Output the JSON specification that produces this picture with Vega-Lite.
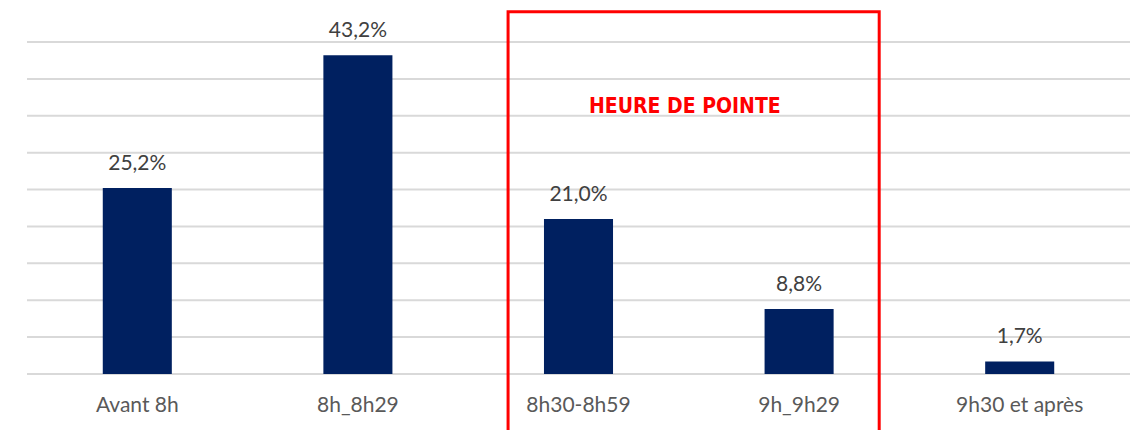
{
  "$schema": "https://vega.github.io/schema/vega-lite/v6.json",
  "autosize": {"type": "none"},
  "width": 1103,
  "height": 332,
  "padding": {"left": 27, "top": 42, "right": 5, "bottom": 56},
  "background": "white",
  "config": {
    "view": {"stroke": null},
    "font": "Lato",
    "axisX": {"title": null, "domain": false, "ticks": false, "labelAngle": 0, "labelFontSize": 21, "labelColor": "#595959", "labelPadding": 20, "labelFont": "Lato", "grid": false},
    "axisY": {"disable": true}
  },
  "datasets": {
    "grid": [
      {"v": 0}, {"v": 5}, {"v": 10}, {"v": 15}, {"v": 20},
      {"v": 25}, {"v": 30}, {"v": 35}, {"v": 40}, {"v": 45}
    ],
    "bars": [
      {"cat": "Avant 8h", "v": 25.2},
      {"cat": "8h_8h29", "v": 43.2},
      {"cat": "8h30-8h59", "v": 21.0},
      {"cat": "9h_9h29", "v": 8.8},
      {"cat": "9h30 et après", "v": 1.7}
    ],
    "box": [
      {"start": "8h30-8h59", "end": "9h_9h29", "top": 49.1, "bottom": -10, "label": "HEURE DE POINTE", "ly": 35.4}
    ]
  },
  "layer": [
    {
      "data": {"name": "grid"},
      "mark": {"type": "rule", "color": "#d9d9d9", "strokeWidth": 2},
      "encoding": {
        "y": {"field": "v", "type": "quantitative", "scale": {"domain": [0, 45], "nice": false}}
      }
    },
    {
      "data": {"name": "bars"},
      "mark": {"type": "bar", "color": "#002060"},
      "encoding": {
        "x": {
          "field": "cat", "type": "nominal", "sort": null,
          "scale": {"domain": ["Avant 8h", "8h_8h29", "8h30-8h59", "9h_9h29", "9h30 et après"], "paddingInner": 0.687, "paddingOuter": 0.3435}
        },
        "y": {"field": "v", "type": "quantitative"}
      }
    },
    {
      "data": {"name": "bars"},
      "transform": [{"calculate": "replace(format(datum.v, '.1f'), '.', ',') + '%'", "as": "lbl"}],
      "mark": {"type": "text", "fontSize": 21, "color": "#404040", "baseline": "alphabetic", "dy": -18, "font": "Lato"},
      "encoding": {
        "x": {"field": "cat", "type": "nominal", "sort": null},
        "y": {"field": "v", "type": "quantitative"},
        "text": {"field": "lbl"}
      }
    },
    {
      "data": {"name": "box"},
      "mark": {"type": "rect", "fill": null, "filled": false, "stroke": "#ff0000", "strokeWidth": 3, "clip": false},
      "encoding": {
        "x": {"field": "start", "type": "nominal", "bandPosition": -0.52},
        "x2": {"field": "end", "bandPosition": 1.66},
        "y": {"field": "top", "type": "quantitative"},
        "y2": {"field": "bottom"}
      }
    },
    {
      "data": {"name": "box"},
      "mark": {"type": "text", "fontSize": 21, "fontWeight": "bold", "font": "DejaVu Sans Condensed", "color": "#ff0000", "baseline": "alphabetic", "align": "center"},
      "encoding": {
        "x": {"field": "start", "type": "nominal", "bandPosition": 2.04},
        "y": {"field": "ly", "type": "quantitative"},
        "text": {"field": "label"}
      }
    }
  ]
}
